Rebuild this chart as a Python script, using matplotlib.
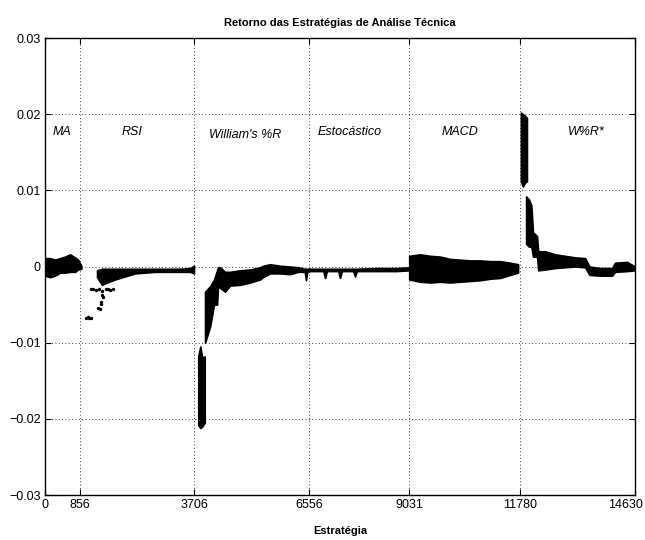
import matplotlib
matplotlib.use("Agg")
import matplotlib.pyplot as plt
import matplotlib.transforms as mtransforms

plt.rcParams['font.family'] = ['Liberation Sans', 'DejaVu Sans']

# ---- data (band readings: index, lower, upper) ----
ma_idx = [0, 124, 248, 372, 496, 620, 744, 818, 900]
ma_hi = [0.0011, 0.0011, 0.0009, 0.0011, 0.0013, 0.0016, 0.0012, 0.0009, 0.0001]
ma_lo = [-0.0012, -0.0014, -0.0012, -0.0008, -0.0008, -0.0007, -0.0007, -0.0004, -0.0003]

rsi_idx = [1290, 1414, 1538, 1736, 1984, 2232, 2480, 2728, 2976, 3348, 3596, 3695]
rsi_hi = [-0.0005, -0.0003, -0.0003, -0.0003, -0.0003, -0.0003, -0.0003, -0.0003, -0.0003, -0.0003, -0.0002, 0.0001]
rsi_lo = [-0.0014, -0.0024, -0.0021, -0.0017, -0.0013, -0.0009, -0.0008, -0.0007, -0.0007, -0.0007, -0.0007, -0.0009]

rsi_out_idx = [1020, 1060, 1100, 1140, 1130, 1200, 1270, 1340, 1420, 1500, 1560, 1620, 1690,
               1310, 1360, 1400, 1380, 1420, 1450]
rsi_out_val = [-0.0067, -0.0066, -0.0068, -0.0067, -0.0029, -0.0030, -0.0031, -0.0030, -0.0032,
               -0.0029, -0.0030, -0.0031, -0.0029, -0.0054, -0.0056, -0.0047, -0.0049, -0.0038, -0.0040]

wr_deep_idx = [3800, 3850, 3900, 3960]
wr_deep_hi = [-0.0118, -0.0105, -0.0120, -0.0118]
wr_deep_lo = [-0.0208, -0.0212, -0.0210, -0.0205]

wr_idx = [3968, 4092, 4191, 4266, 4290, 4340, 4464, 4588, 4836, 5084, 5332, 5406, 5580, 5828,
          6076, 6274, 6440, 6473, 6500, 6556]
wr_hi = [-0.0033, -0.0026, -0.0017, -0.0005, -0.0001, -0.0001, -0.0007, -0.0007, -0.0005, -0.0004,
         -0.0001, 0.0001, 0.0003, 0.0001, 0.0000, -0.0001, -0.0003, -0.0003, -0.0003, -0.0003]
wr_lo = [-0.0100, -0.0079, -0.0050, -0.0050, -0.0026, -0.0028, -0.0033, -0.0025, -0.0024, -0.0021,
         -0.0017, -0.0014, -0.0009, -0.0009, -0.0010, -0.0007, -0.0007, -0.0018, -0.0007, -0.0006]

est_idx = [6556, 6900, 6944, 6990, 7270, 7316, 7360, 7640, 7688, 7730, 8200, 8700, 9031]
est_hi = [-0.0003, -0.0003, -0.0003, -0.0003, -0.0003, -0.0003, -0.0003, -0.0003, -0.0003,
          -0.0003, -0.0002, -0.0002, -0.0001]
est_lo = [-0.0006, -0.0006, -0.0015, -0.0006, -0.0006, -0.0015, -0.0006, -0.0006, -0.0013,
          -0.0006, -0.0006, -0.0006, -0.0005]

macd_idx = [9031, 9300, 9550, 9800, 10040, 10290, 10540, 10790, 11040, 11290, 11530, 11730]
macd_hi = [0.0014, 0.0016, 0.0014, 0.0013, 0.0010, 0.0009, 0.0008, 0.0008, 0.0007, 0.0007, 0.0005, 0.0003]
macd_lo = [-0.0017, -0.0020, -0.0021, -0.0020, -0.0021, -0.0020, -0.0019, -0.0018, -0.0016,
           -0.0015, -0.0011, -0.0008]

wrs_top_idx = [11800, 11850, 11900, 11950]
wrs_top_hi = [0.0202, 0.0200, 0.0198, 0.0195]
wrs_top_lo = [0.0112, 0.0105, 0.0110, 0.0112]

wrs_idx = [11930, 12000, 12060, 12100, 12200, 12230, 12400, 12648, 12896, 13144, 13392, 13500,
           13764, 14062, 14136, 14434, 14630]
wrs_hi = [0.0092, 0.0088, 0.0080, 0.0045, 0.0040, 0.0020, 0.0020, 0.0016, 0.0014, 0.0012, 0.0011,
          0.0000, -0.0002, -0.0002, 0.0005, 0.0006, 0.0000]
wrs_lo = [0.0030, 0.0026, 0.0026, 0.0013, 0.0013, -0.0005, -0.0004, -0.0002, -0.0001, 0.0000,
          -0.0001, -0.0011, -0.0012, -0.0012, -0.0007, -0.0006, -0.0005]

xticks = [0, 856, 3706, 6556, 9031, 11780, 14630]
yticks = [-0.03, -0.02, -0.01, 0, 0.01, 0.02, 0.03]
ytick_labels = ['\u22120.03', '\u22120.02', '\u22120.01', '0', '0.01', '0.02', '0.03']
names = ['MA', 'RSI', "William's %R", 'Estocástico', 'MACD', 'W%R*']
name_x = [422, 2158, 4960, 7564, 10292, 13417]
name_y = [0.0176, 0.0176, 0.0173, 0.0176, 0.0176, 0.0176]

fig = plt.figure(figsize=(6.45, 5.4), dpi=100)
ax = fig.add_axes([0.0698, 0.0833, 0.9147, 0.8463])

bands = [(ma_idx, ma_lo, ma_hi), (rsi_idx, rsi_lo, rsi_hi), (wr_deep_idx, wr_deep_lo, wr_deep_hi),
         (wr_idx, wr_lo, wr_hi), (est_idx, est_lo, est_hi), (macd_idx, macd_lo, macd_hi),
         (wrs_top_idx, wrs_top_lo, wrs_top_hi), (wrs_idx, wrs_lo, wrs_hi)]
for xs, lo, hi in bands:
    ax.fill_between(xs, lo, hi, facecolor='black', edgecolor='black', linewidth=1.2, zorder=3)

ax.scatter(rsi_out_idx, rsi_out_val, s=6, c='black', marker='o', linewidths=0, zorder=3)

for n, x, y in zip(names, name_x, name_y):
    ax.text(x, y, n, ha='center', va='center', fontsize=9, style='italic')

ax.set_xlim(0, 14630)
ax.set_ylim(-0.03, 0.03)
ax.set_xticks(xticks)
ax.set_xticklabels([str(t) for t in xticks])
ax.set_yticks(yticks)
ax.set_yticklabels(ytick_labels)
ax.grid(True, linestyle=(0, (1, 3)), color='black', linewidth=0.6)
ax.tick_params(direction='in', top=True, right=True, labelsize=9, length=4, width=0.8, pad=3)
for s in ax.spines.values():
    s.set_linewidth(1.0)

# keep the last x tick label inside the figure
last = ax.get_xticklabels()[-1]
last.set_transform(last.get_transform() + mtransforms.ScaledTranslation(-10 / 100, 0, fig.dpi_scale_trans))

ax.set_title('Retorno das Estratégias de Análise Técnica', fontsize=8, fontweight='bold', pad=9)
ax.set_xlabel('Estratégia', fontsize=8, fontweight='bold', labelpad=11)

fig.savefig('out.png', dpi=100)
